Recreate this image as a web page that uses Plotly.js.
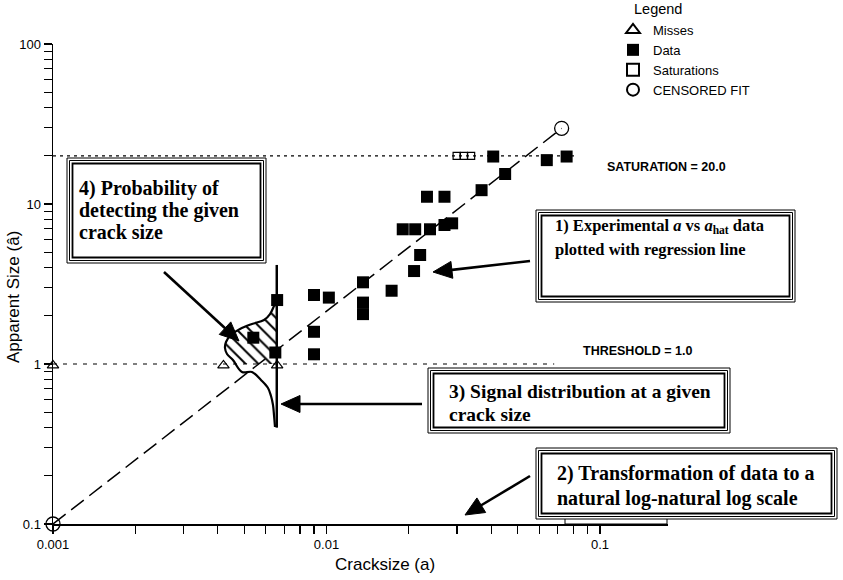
<!DOCTYPE html>
<html>
<head>
<meta charset="utf-8">
<script src="https://cdn.plot.ly/plotly-3.0.1.min.js"></script>
<style>html,body{margin:0;padding:0;background:#fff;}#chart{width:843px;height:580px;}</style>
</head>
<body>
<div id="chart"></div>
<script>
// ---- data ----
const dataCrack = [0.0066, 0.0054, 0.0065, 0.0090, 0.0102, 0.0090, 0.0090, 0.0136, 0.0136, 0.0136, 0.0173, 0.0209, 0.0220, 0.0190, 0.0211, 0.0239, 0.0270, 0.0288, 0.0233, 0.0270, 0.0369, 0.0450, 0.0407, 0.0639, 0.0755];
const dataApparent = [2.51, 1.46, 1.18, 2.70, 2.60, 1.59, 1.15, 3.24, 2.42, 2.05, 2.87, 3.81, 4.80, 6.95, 6.95, 6.95, 7.39, 7.57, 11.1, 11.1, 12.2, 15.4, 19.8, 18.8, 19.8];
const missCrack = [0.001, 0.0042, 0.0066];
const missApparent = [0.98, 0.98, 0.98];
const satCrack = [0.0299, 0.0318, 0.0338];
const satApparent = [20, 20, 20];
const fitCrack = [0.001, 0.0724];
const fitApparent = [0.1, 29.7];
const threshold = 1.0;
const saturation = 20.0;
const thresholdLineCrack = [0.001, 0.068];
const saturationLineCrack = [0.001, 0.081];
// signal distribution drawn at crack size 0.0066
const distCrack = [0.006592, 0.006427, 0.006215, 0.005909, 0.005340, 0.004828, 0.004475, 0.004291, 0.004255, 0.004327, 0.004549, 0.004909, 0.005340, 0.005760, 0.006111, 0.006268, 0.006374, 0.006427, 0.006482];
const distApparent = [2.585, 2.304, 2.053, 1.884, 1.778, 1.655, 1.518, 1.373, 1.259, 1.155, 1.059, 0.891, 0.891, 0.794, 0.708, 0.631, 0.554, 0.480, 0.404];
const distLineCrack = [0.00658, 0.00658];
const distLineApparent = [4.16, 0.40];
const podCrack = [0.006592, 0.006427, 0.006215, 0.005909, 0.005340, 0.004828, 0.004475, 0.004291, 0.004255, 0.004327, 0.004549, 0.0047, 0.00658, 0.00658];
const podApparent = [2.585, 2.304, 2.053, 1.884, 1.778, 1.655, 1.518, 1.373, 1.259, 1.155, 1.059, 1.0, 1.0, 2.585];
const xTickVals = [0.001, 0.01, 0.1];
const xTickText = ['0.001', '0.01', '0.1'];
const yTickVals = [0.1, 1, 10, 100];
const yTickText = ['0.1', '1', '10', '100'];
const minorSteps = [2, 3, 4, 5, 6, 7, 8, 9];
const legendNames = ['Misses', 'Data', 'Saturations', 'CENSORED FIT'];

// ---- geometry helpers (pixel -> paper) ----
const L = 53, T = 44, W = 615, H = 480;
const px = v => (v - L) / W;
const py = v => (T + H - v) / H;

const xMinor = [];
[0.001, 0.01].forEach(d => minorSteps.forEach(s => xMinor.push(d * s)));
const yMinor = [];
[0.1, 1, 10].forEach(d => minorSteps.forEach(s => yMinor.push(d * s)));

const traces = [
  {x: thresholdLineCrack, y: [threshold, threshold], mode: 'lines', line: {color: '#000', width: 1.2, dash: '4px,6px'}, showlegend: false, hoverinfo: 'skip'},
  {x: saturationLineCrack, y: [saturation, saturation], mode: 'lines', line: {color: '#000', width: 1.2, dash: '3px,4px'}, showlegend: false, hoverinfo: 'skip'},
  {x: fitCrack, y: fitApparent, mode: 'lines', line: {color: '#000', width: 1.5, dash: '16px,7px'}, showlegend: false, hoverinfo: 'skip', cliponaxis: false},
  {x: podCrack, y: podApparent, mode: 'lines', fill: 'toself', line: {width: 0, color: 'rgba(0,0,0,0)'}, fillcolor: 'rgba(255,255,255,0)',
   fillpattern: {shape: '\\', fgcolor: '#000', bgcolor: 'rgba(255,255,255,0)', size: 9, solidity: 0.22}, showlegend: false, hoverinfo: 'skip'},
  {x: distCrack, y: distApparent, mode: 'lines', line: {color: '#000', width: 2.2, shape: 'spline'}, showlegend: false, hoverinfo: 'skip'},
  {x: distLineCrack, y: distLineApparent, mode: 'lines', line: {color: '#000', width: 2.5}, showlegend: false, hoverinfo: 'skip'},
  {x: missCrack, y: missApparent, mode: 'markers', name: legendNames[0], marker: {symbol: 'triangle-up-open', size: 10, color: '#000', line: {width: 1.2}}, cliponaxis: false},
  {x: dataCrack, y: dataApparent, mode: 'markers', name: legendNames[1], marker: {symbol: 'square', size: 12, color: '#000'}, cliponaxis: false},
  {x: satCrack, y: satApparent, mode: 'markers', name: legendNames[2], marker: {symbol: 'square-open', size: 7, color: '#000', line: {width: 1.2}}, cliponaxis: false},
  {x: fitCrack, y: fitApparent, mode: 'markers', name: legendNames[3], marker: {symbol: 'circle-open', size: 14, color: '#000', line: {width: 1.3}}, cliponaxis: false}
];

function frame(x0, y0, x1, y1) {
  const out = [];
  [[0, 1], [2.5, 1], [5.5, 1.8]].forEach(([d, w]) => {
    out.push({type: 'rect', xref: 'paper', yref: 'paper', x0: px(x0 + d), x1: px(x1 - d), y0: py(y0 + d), y1: py(y1 - d),
      line: {color: '#000', width: w}, fillcolor: 'rgba(255,255,255,1)', layer: 'above'});
  });
  return out;
}
function arrowShapes(hx, hy, tx, ty) {
  const dx = hx - tx, dy = hy - ty, len = Math.hypot(dx, dy);
  const ux = dx / len, uy = dy / len, nx = -uy, ny = ux;
  const headLen = 19, half = 8.5;
  const bx = hx - ux * headLen, by = hy - uy * headLen;
  const p = (x, y) => px(x) + ',' + py(y);
  return [
    {type: 'line', xref: 'paper', yref: 'paper', x0: px(tx), y0: py(ty), x1: px(bx + ux * 2), y1: py(by + uy * 2), line: {color: '#000', width: 2.6}, layer: 'above'},
    {type: 'path', xref: 'paper', yref: 'paper', path: 'M' + p(hx, hy) + ' L' + p(bx + nx * half, by + ny * half) + ' L' + p(bx - nx * half, by - ny * half) + ' Z',
     fillcolor: '#000', line: {color: '#000', width: 1}, layer: 'above'}
  ];
}

const shapes = [].concat(
  [{type: 'rect', xref: 'paper', yref: 'paper', x0: px(565), x1: px(667), y0: py(524), y1: py(515), line: {color: '#000', width: 1}, layer: 'below'}],
  frame(67, 158, 266, 263),
  frame(536, 210, 795, 302),
  frame(428, 368, 730, 433),
  frame(536, 448, 837, 519),
  arrowShapes(239, 341, 164, 272),
  arrowShapes(433, 272, 530, 261),
  arrowShapes(281, 404, 422, 404),
  arrowShapes(465, 515, 530, 476)
);

const serif = '"Liberation Serif", "Times New Roman", serif';
const sans = '"Liberation Sans", Arial, Helvetica, sans-serif';
function line(x, y, t, size) {
  return {xref: 'paper', yref: 'paper', x: px(x), y: py(y), xanchor: 'left', yanchor: 'middle', align: 'left', showarrow: false,
    text: '<b>' + t + '</b>', font: {family: serif, size: size, color: '#000'}};
}
const smallBold = {family: sans, size: 12.5, color: '#000'};

const annotations = [
  line(77, 188, '4) Probability of', 20),
  line(77, 210, 'detecting the given', 20),
  line(77, 232, 'crack size', 20),
  line(553, 226, '1) Experimental <i>a</i> vs <i>a</i><sub>hat</sub> data', 16.5),
  line(553, 249, 'plotted with regression line', 16.5),
  line(447, 392, '3) Signal distribution at a given', 19.5),
  line(447, 414, 'crack size', 19.5),
  line(555, 473, '2) Transformation of data to a', 20),
  line(555, 498, 'natural log-natural log scale', 20),
  {xref: 'paper', yref: 'paper', x: px(666), y: py(167), xanchor: 'center', yanchor: 'middle', showarrow: false, text: '<b>SATURATION = 20.0</b>', font: smallBold},
  {xref: 'paper', yref: 'paper', x: px(637), y: py(351), xanchor: 'center', yanchor: 'middle', showarrow: false, text: '<b>THRESHOLD = 1.0</b>', font: smallBold},
  {xref: 'paper', yref: 'paper', x: px(658), y: py(9), xanchor: 'center', yanchor: 'middle', showarrow: false, text: 'Legend', font: {family: sans, size: 14.5, color: '#000'}},
  {xref: 'paper', yref: 'paper', x: px(385), y: py(564), xanchor: 'center', yanchor: 'middle', showarrow: false, text: 'Cracksize (a)', font: {family: sans, size: 17, color: '#000'}},
  {xref: 'paper', yref: 'paper', x: px(13), y: py(297), xanchor: 'center', yanchor: 'middle', textangle: -90, showarrow: false, text: 'Apparent Size (â)', font: {family: sans, size: 17, color: '#000'}}
];

const axisFont = {family: sans, size: 13, color: '#000'};

const layout = {
  width: 843, height: 580,
  margin: {l: L, r: 843 - L - W, t: T, b: 580 - T - H, pad: 0},
  paper_bgcolor: '#fff', plot_bgcolor: '#fff',
  font: axisFont,
  showlegend: true,
  legend: {x: px(613), y: py(15), xanchor: 'left', yanchor: 'top', bgcolor: 'rgba(255,255,255,0)',
    font: {family: sans, size: 13, color: '#000'}, itemsizing: 'constant', tracegroupgap: 0},
  xaxis: {type: 'log', range: [-3, -3 + W / 273.5], showgrid: false, zeroline: false,
    showline: true, linecolor: '#000', linewidth: 1.5, ticks: 'outside', ticklen: 8, tickwidth: 1.3, tickcolor: '#000',
    tickvals: xTickVals, ticktext: xTickText, tickfont: axisFont,
    minor: {tickvals: xMinor, ticks: 'outside', ticklen: 8, tickwidth: 1.2, tickcolor: '#000', showgrid: false},
    automargin: false},
  yaxis: {type: 'log', range: [-1, 2], showgrid: false, zeroline: false,
    showline: true, linecolor: '#000', linewidth: 1.5, ticks: 'outside', ticklen: 8, tickwidth: 1.3, tickcolor: '#000',
    tickvals: yTickVals, ticktext: yTickText, tickfont: axisFont,
    minor: {tickvals: yMinor, ticks: 'outside', ticklen: 8, tickwidth: 1.2, tickcolor: '#000', showgrid: false},
    automargin: false},
  shapes: shapes,
  annotations: annotations
};

Plotly.newPlot('chart', traces, layout, {staticPlot: true, displayModeBar: false});
</script>
</body>
</html>
